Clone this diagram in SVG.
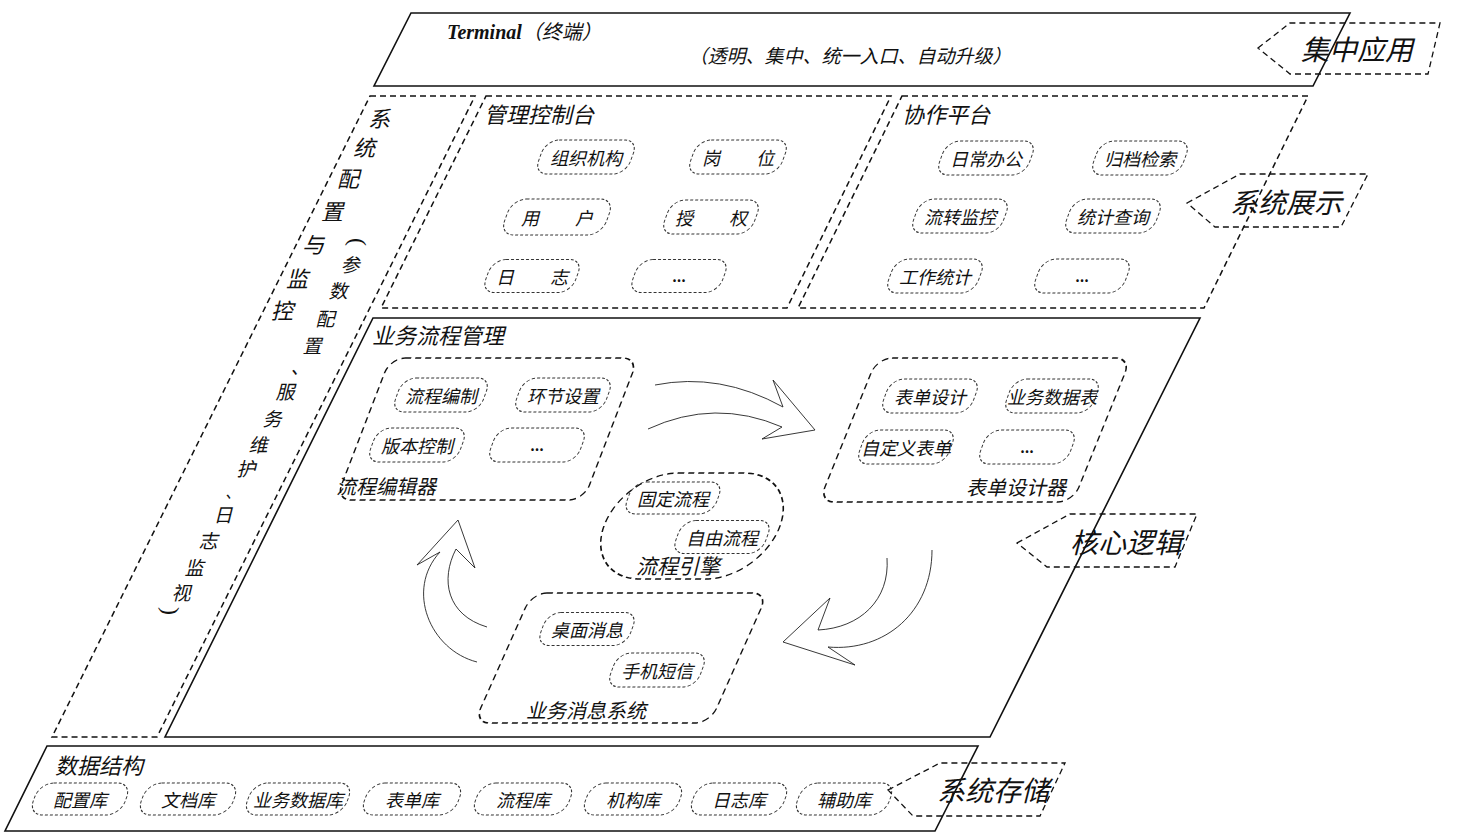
<svg xmlns="http://www.w3.org/2000/svg" width="1477" height="840" viewBox="0 0 1477 840">
<style>
text{font-family:"Noto Sans CJK SC","Liberation Sans",sans-serif;font-style:italic;fill:#111;}
.pill{fill:none;stroke:#333;stroke-width:1;stroke-dasharray:3 2;}
.pt{font-size:18px;text-anchor:middle;dominant-baseline:central;}
.dots{font-size:14px;font-weight:bold;text-anchor:middle;dominant-baseline:central;font-style:normal;}
.grp{fill:none;stroke:#111;stroke-width:1.5;stroke-dasharray:6 4;}
.solid{fill:none;stroke:#111;stroke-width:1.6;}
.title{font-size:22px;}
.sub{font-size:20px;}
.lab{font-size:28px;text-anchor:middle;dominant-baseline:central;}
.tag{fill:none;stroke:#111;stroke-width:1.3;stroke-dasharray:6 4;}
.vt{font-size:22px;text-anchor:middle;dominant-baseline:central;}
.vs{font-size:19px;text-anchor:middle;dominant-baseline:central;}
.par{font-family:"Liberation Serif",serif;font-style:normal;font-size:24px;text-anchor:middle;dominant-baseline:central;}
.arr{fill:none;stroke:#222;stroke-width:0.9;}
</style>

<g id="terminal">
<polygon class="solid" points="411,13 1350,13 1313,86 374,86"/>
<text x="447" y="39" style="font-size:20px"><tspan style="font-family:'Liberation Serif',serif;font-weight:bold">Terminal</tspan>（终端）</text>
<text x="850" y="63" style="font-size:19px" text-anchor="middle">（透明、集中、统一入口、自动升级）</text>
</g>

<g id="tag-jizhong">
<polygon class="tag" points="1258,48 1290,23 1440,23 1428,74 1290,74"/>
<text class="lab" x="1357" y="48">集中应用</text>
</g>

<g id="config-panel">
<polygon class="grp" points="370,96 475,96 157,737 52,737"/>
<text class="vt" x="379" y="117">系</text>
<text class="vt" x="364" y="146">统</text>
<text class="vt" x="348" y="177">配</text>
<text class="vt" x="332" y="210">置</text>
<text class="vt" x="313" y="243">与</text>
<text class="vt" x="297" y="277">监</text>
<text class="vt" x="282" y="309">控</text>
<g transform="translate(358,242) rotate(90)"><text class="par">(</text></g>
<text class="vs" x="350" y="263">参</text>
<text class="vs" x="338" y="289">数</text>
<text class="vs" x="325" y="317">配</text>
<text class="vs" x="312" y="344">置</text>
<text class="vs" x="300" y="365">、</text>
<text class="vs" x="285" y="390">服</text>
<text class="vs" x="272" y="417">务</text>
<text class="vs" x="258" y="443">维</text>
<text class="vs" x="246" y="467">护</text>
<text class="vs" x="233" y="491" style="font-size:16px">、</text>
<text class="vs" x="223" y="513">日</text>
<text class="vs" x="208" y="539">志</text>
<text class="vs" x="194" y="566">监</text>
<text class="vs" x="181" y="591">视</text>
<g transform="translate(171,611) rotate(90)"><text class="par">)</text></g>
</g>

<g id="mgmt-console">
<polygon class="grp" points="486,96 891,96 787,308 381,308"/>
<text class="title" x="484" y="123">管理控制台</text>
<g transform="translate(586,157)"><rect class="pill" x="-46" y="-17" width="92" height="34" rx="13" transform="skewX(-20)"/><text class="pt">组织机构</text></g>
<g transform="translate(738,157)"><rect class="pill" x="-46" y="-17" width="92" height="34" rx="13" transform="skewX(-20)"/><text class="pt">岗　　位</text></g>
<g transform="translate(557,217)"><rect class="pill" x="-51" y="-18" width="102" height="36" rx="14" transform="skewX(-20)"/><text class="pt">用　　户</text></g>
<g transform="translate(711,217)"><rect class="pill" x="-45" y="-17" width="90" height="34" rx="13" transform="skewX(-20)"/><text class="pt">授　　权</text></g>
<g transform="translate(532,276)"><rect class="pill" x="-45" y="-16.5" width="90" height="33" rx="13" transform="skewX(-20)"/><text class="pt">日　　志</text></g>
<g transform="translate(679,276)"><rect class="pill" x="-45" y="-16.5" width="90" height="33" rx="13" transform="skewX(-20)"/><text class="dots">...</text></g>
</g>

<g id="collab-platform">
<polygon class="grp" points="902,96 1308,96 1204,308 798,308"/>
<text class="title" x="902" y="123">协作平台</text>
<g transform="translate(986,158)"><rect class="pill" x="-45" y="-17" width="90" height="34" rx="13" transform="skewX(-20)"/><text class="pt">日常办公</text></g>
<g transform="translate(1140,158)"><rect class="pill" x="-45" y="-17" width="90" height="34" rx="13" transform="skewX(-20)"/><text class="pt">归档检索</text></g>
<g transform="translate(960,216)"><rect class="pill" x="-45" y="-17" width="90" height="34" rx="13" transform="skewX(-20)"/><text class="pt">流转监控</text></g>
<g transform="translate(1113,216)"><rect class="pill" x="-45" y="-17" width="90" height="34" rx="13" transform="skewX(-20)"/><text class="pt">统计查询</text></g>
<g transform="translate(935,276)"><rect class="pill" x="-45" y="-17" width="90" height="34" rx="13" transform="skewX(-20)"/><text class="pt">工作统计</text></g>
<g transform="translate(1082,276)"><rect class="pill" x="-45" y="-17" width="90" height="34" rx="13" transform="skewX(-20)"/><text class="dots">...</text></g>
</g>

<g id="tag-zhanshi">
<polygon class="tag" points="1187,203 1240,174 1368,174 1341,227 1215,227"/>
<text class="lab" x="1286" y="201">系统展示</text>
</g>

<g id="business-flow">
<polygon class="solid" points="373,318 1200,318 990,737 165,737"/>
<text class="title" x="372" y="344">业务流程管理</text>
</g>

<g id="flow-editor">
<rect class="grp" x="-124" y="-71" width="248" height="142" rx="15" transform="translate(487,429) skewX(-21)"/>
<g transform="translate(441,395)"><rect class="pill" x="-44" y="-17" width="88" height="34" rx="13" transform="skewX(-20)"/><text class="pt">流程编制</text></g>
<g transform="translate(563,395)"><rect class="pill" x="-45" y="-17" width="90" height="34" rx="13" transform="skewX(-20)"/><text class="pt">环节设置</text></g>
<g transform="translate(417,445)"><rect class="pill" x="-45" y="-17" width="90" height="34" rx="13" transform="skewX(-20)"/><text class="pt">版本控制</text></g>
<g transform="translate(537,445)"><rect class="pill" x="-45" y="-17" width="90" height="34" rx="13" transform="skewX(-20)"/><text class="dots">...</text></g>
<text class="sub" x="336" y="494">流程编辑器</text>
</g>

<g id="form-designer">
<rect class="grp" x="-127" y="-72" width="254" height="144" rx="15" transform="translate(975,430) skewX(-22)"/>
<g transform="translate(930,396)"><rect class="pill" x="-45" y="-17" width="90" height="34" rx="13" transform="skewX(-20)"/><text class="pt">表单设计</text></g>
<g transform="translate(1052,396)"><rect class="pill" x="-44" y="-17" width="88" height="34" rx="13" transform="skewX(-20)"/><text class="pt">业务数据表</text></g>
<g transform="translate(906,447)"><rect class="pill" x="-45" y="-17" width="90" height="34" rx="13" transform="skewX(-20)"/><text class="pt">自定义表单</text></g>
<g transform="translate(1027,447)"><rect class="pill" x="-45" y="-17" width="90" height="34" rx="13" transform="skewX(-20)"/><text class="dots">...</text></g>
<text class="sub" x="1066" y="495" text-anchor="end">表单设计器</text>
</g>

<g id="flow-engine">
<rect class="grp" x="-88" y="-53" width="176" height="106" rx="55" ry="53" transform="translate(692,526) skewX(-20)"/>
<g transform="translate(673,498)"><rect class="pill" x="-45" y="-16" width="90" height="32" rx="13" transform="skewX(-20)"/><text class="pt">固定流程</text></g>
<g transform="translate(722,537)"><rect class="pill" x="-45" y="-16.5" width="90" height="33" rx="13" transform="skewX(-20)"/><text class="pt">自由流程</text></g>
<text x="636" y="574" style="font-size:21px">流程引擎</text>
</g>

<g id="message-system">
<rect class="grp" x="-118" y="-65" width="236" height="130" rx="15" transform="translate(621,658) skewX(-24)"/>
<g transform="translate(587,629)"><rect class="pill" x="-45" y="-16.5" width="90" height="33" rx="13" transform="skewX(-20)"/><text class="pt">桌面消息</text></g>
<g transform="translate(657,670)"><rect class="pill" x="-45" y="-17" width="90" height="34" rx="13" transform="skewX(-20)"/><text class="pt">手机短信</text></g>
<text class="sub" x="526" y="718">业务消息系统</text>
</g>

<g id="connectors">
<path class="arr" d="M655,385 Q720,372 783,407 L773,380 L815,430 L762,439 L782,427 Q715,398 648,429"/>
<path class="arr" d="M887,558 C890,600 860,628 818,630 L830,598 L783,642 L855,665 L828,647 C885,652 932,612 932,550"/>
<path class="arr" d="M477,662 C430,650 405,590 440,552 L417,565 L458,520 L475,568 L456,549 C440,580 447,615 487,627"/>
</g>

<g id="tag-hexin">
<polygon class="tag" points="1017,543 1070,514 1197,514 1175,567 1047,567"/>
<text class="lab" x="1126" y="541">核心逻辑</text>
</g>

<g id="data-structure">
<polygon class="solid" points="47,746 978,746 935,831 5,831"/>
<text x="55" y="774" style="font-size:22px">数据结构</text>
<g transform="translate(80,799)"><rect class="pill" x="-46" y="-16" width="92" height="32" rx="14" transform="skewX(-20)"/><text class="pt">配置库</text></g>
<g transform="translate(188,799)"><rect class="pill" x="-46" y="-16" width="92" height="32" rx="14" transform="skewX(-20)"/><text class="pt">文档库</text></g>
<g transform="translate(298,799)"><rect class="pill" x="-50" y="-16" width="100" height="32" rx="14" transform="skewX(-20)"/><text class="pt">业务数据库</text></g>
<g transform="translate(412,799)"><rect class="pill" x="-47" y="-16" width="94" height="32" rx="14" transform="skewX(-20)"/><text class="pt">表单库</text></g>
<g transform="translate(523,799)"><rect class="pill" x="-47" y="-16" width="94" height="32" rx="14" transform="skewX(-20)"/><text class="pt">流程库</text></g>
<g transform="translate(633,799)"><rect class="pill" x="-47" y="-16" width="94" height="32" rx="14" transform="skewX(-20)"/><text class="pt">机构库</text></g>
<g transform="translate(739,799)"><rect class="pill" x="-46" y="-16" width="92" height="32" rx="14" transform="skewX(-20)"/><text class="pt">日志库</text></g>
<g transform="translate(844,799)"><rect class="pill" x="-46" y="-16" width="92" height="32" rx="14" transform="skewX(-20)"/><text class="pt">辅助库</text></g>
</g>

<g id="tag-cunchu">
<polygon class="tag" points="888,790 940,763 1065,763 1040,816 913,816"/>
<text class="lab" x="993" y="789">系统存储</text>
</g>
</svg>
